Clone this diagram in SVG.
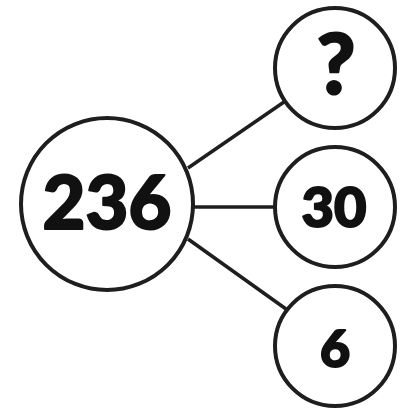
<svg xmlns="http://www.w3.org/2000/svg" width="409" height="409" viewBox="0 0 409 409">
<style>
.c{fill:#fff;stroke:#1e1e1e;stroke-width:4}
.l{stroke:#1e1e1e;stroke-width:3.5;fill:none}
.t{font-family:"Lato","Liberation Sans",sans-serif;font-weight:900;fill:#111;stroke:#111;stroke-width:2;stroke-linejoin:round;text-anchor:middle}
</style>
<rect width="409" height="409" fill="#fff"/>
<g id="connectors">
<line class="l" x1="188" y1="168" x2="284" y2="102"/>
<line class="l" x1="192" y1="207" x2="276" y2="207"/>
<line class="l" x1="188" y1="239" x2="286" y2="309"/>
</g>
<g id="n236">
<circle class="c" cx="107" cy="204" r="86"/>
<text class="t" x="107" y="229" font-size="74">236</text>
</g>
<g id="nq">
<circle class="c" cx="335" cy="68" r="60"/>
<text class="t" x="336" y="94" font-size="84">?</text>
</g>
<g id="n30">
<circle class="c" cx="335" cy="207" r="60"/>
<text class="t" x="334" y="227" font-size="56">30</text>
</g>
<g id="n6">
<circle class="c" cx="335" cy="346" r="60"/>
<text class="t" x="335" y="367" font-size="52">6</text>
</g>
</svg>
